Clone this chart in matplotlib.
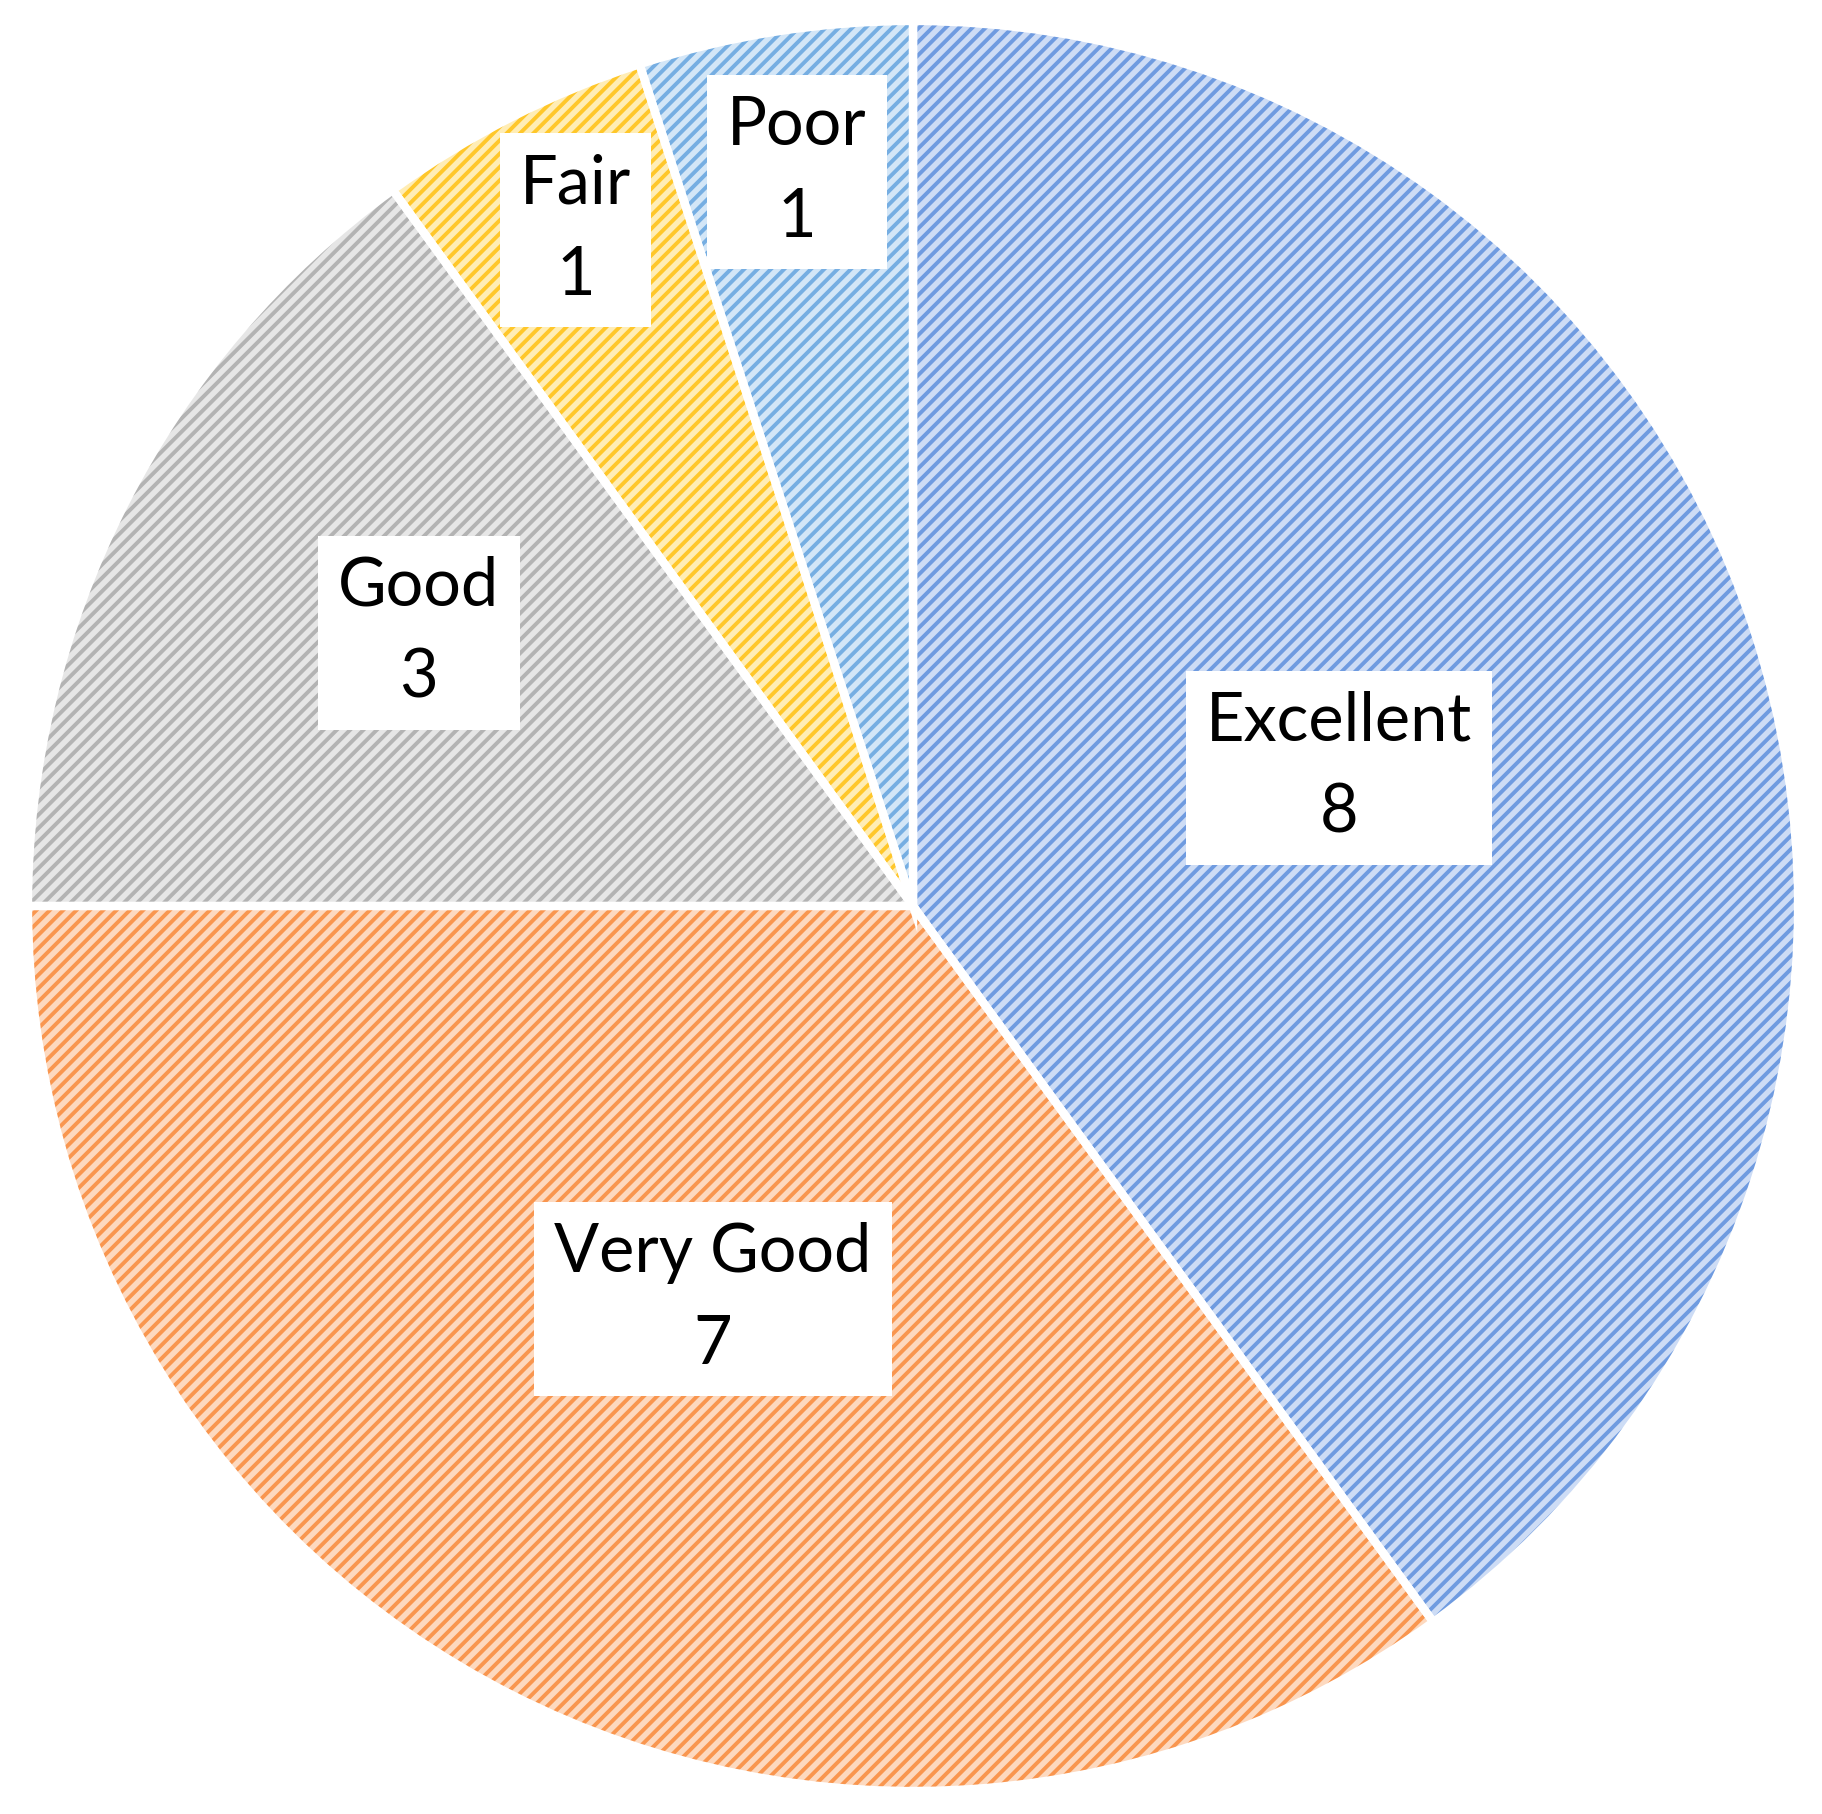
import numpy as np
import matplotlib as mpl
mpl.use('Agg')
import matplotlib.pyplot as plt

labels = ['Excellent', 'Very Good', 'Good', 'Fair', 'Poor']
counts = [8, 7, 3, 1, 1]

stripe_cols = ['#6f9be0', '#f9964f', '#b3b3b3', '#ffc72a', '#76aee2']
back_cols = ['#cddcf5', '#fdd9bf', '#e6e6e6', '#ffedb5', '#d3e6f7']
label_r = [0.506, 0.498, 0.64, 0.857, 0.84]

plt.rcParams['hatch.linewidth'] = 1.4
plt.rcParams['font.family'] = ['Lato', 'DejaVu Sans']

fig = plt.figure(figsize=(9.11, 9.07), dpi=200)
ax = fig.add_axes([0, 0, 1, 1])

wedges, _ = ax.pie(counts, startangle=90, counterclock=False, radius=1.0,
                   colors=back_cols, wedgeprops=dict(linewidth=0))
for w, c in zip(wedges, stripe_cols):
    w.set_hatch('/////')
    w.set_edgecolor(c)
    w.set_linewidth(0)

# white separators drawn on top
sep, _ = ax.pie(counts, startangle=90, counterclock=False, radius=1.0,
                wedgeprops=dict(facecolor='none', edgecolor='white', linewidth=3.0))

for w, lab, n, r in zip(wedges, labels, counts, label_r):
    ang = np.deg2rad((w.theta1 + w.theta2) / 2)
    x, y = r * np.cos(ang), r * np.sin(ang)
    if lab == 'Fair':
        x += 0.008
    if lab == 'Good':
        x += 0.012
        y += 0.018
    ax.text(x, y, '%s\n%d' % (lab, n),
            ha='center', va='center', fontsize=24, linespacing=1.6,
            bbox=dict(boxstyle='square,pad=0.3', facecolor='white', edgecolor='none'))

ax.set_xlim(-1.0316, 1.027)
ax.set_ylim(-1.026, 1.0237)
ax.set_aspect('auto')
ax.axis('off')
fig.savefig('out.png', dpi=200, facecolor='white')
